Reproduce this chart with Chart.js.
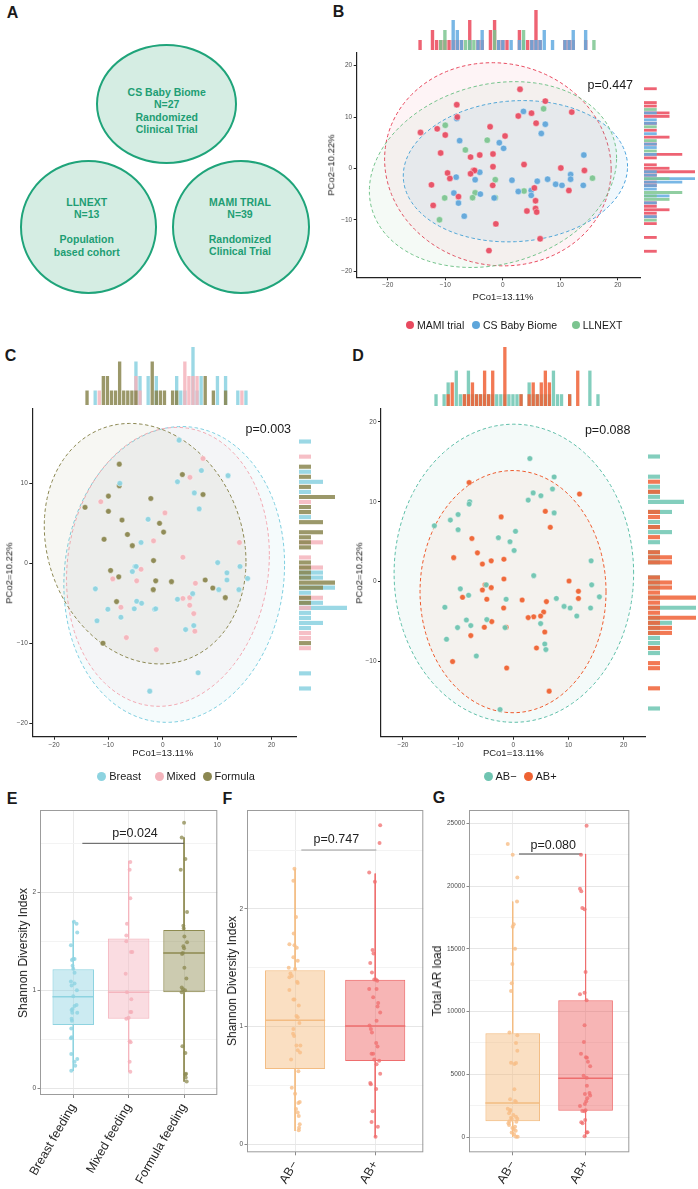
<!DOCTYPE html>
<html>
<head>
<meta charset="utf-8">
<script src="https://cdn.jsdelivr.net/npm/chart.js@4/dist/chart.umd.min.js"></script>
<style>
html, body { margin: 0; padding: 0; background: #fff; }
#page { position: relative; width: 698px; height: 1189px; overflow: hidden; font-family: "Liberation Sans", Arial, Helvetica, sans-serif; color: #222; }
#page canvas { position: absolute; }
.t { position: absolute; transform: translate(-50%, -50%); white-space: nowrap; line-height: 1; }
.tl { position: absolute; transform: translate(0, -50%); white-space: nowrap; line-height: 1; }
.dot { position: absolute; border-radius: 50%; }
.circ { position: absolute; box-sizing: border-box; border: 2px solid #1fa47a; background: #d5ede3; border-radius: 50%; }
</style>
</head>
<body>
<div id="page"></div>
<script>
// ---------- PCoA coordinates (shared by panels B, C, D) ----------
const pcoX = [3.0, 7.4, -8.0, 3.6, 5.0, 7.1, 12.0, 2.7, -7.9, -8.0,
    5.8, 7.4, -2.2, -10.0, -11.4, -14.3, -10.0, 6.7, 0.4, -7.5,
    -2.7, -0.6, 0.15, -10.8, -6.5, -5.6, -4.0, -1.7, 14.1, 3.7,
    -1.7, 10.1, -5.1, -4.9, -4.0, -5.6, -9.6, 14.2, 11.8, -8.1,
    -9.2, -4.8, -1.3, 1.6, 6.0, 7.8, 11.8, 15.6, -12.4, -1.75,
    9.2, 10.3, 14.0, 5.5, 4.95, 3.7, 2.7, 11.5, -8.5, -4.8,
    -3.9, 4.95, -7.7, -10.1, -5.25, -1.5, -1.3, 5.7, -12.1, -7.7,
    4.2, 5.7, 5.9, -6.7, -11.0, -1.2, 6.5, -2.4];
const pcoY = [15.4, 13.1, 12.4, 11.1, 10.75, 11.6, 10.96, 10.2, 10.0, 9.7,
    8.8, 8.6, 8.1, 8.4, 7.7, 7.0, 6.5, 6.8, 6.3, 5.4,
    5.5, 5.0, 3.9, 3.0, 3.6, 2.2, 2.6, 2.8, 2.6, 0.75,
    0.33, 0.08, -0.4, -0.4, -0.75, -1.04, -0.9, -0.4, -1.2, -1.7,
    -1.96, -2.2, -2.2, -2.3, -2.5, -2.1, -2.1, -1.9, -3.2, -3.3,
    -3.1, -3.3, -3.3, -3.8, -4.3, -4.4, -4.5, -4.3, -4.8, -4.75,
    -5.0, -5.25, -5.5, -5.75, -5.7, -5.75, -5.7, -6.3, -7.2, -6.75,
    -8.3, -7.8, -8.5, -9.3, -10.0, -10.8, -13.7, -16.0];
// M = MAMI trial, C = CS Baby Biome, L = LLNEXT
const pcoStudy = ['M','M','M','C','M','L','M','M','M','C',
    'M','C','M','L','M','M','M','C','M','C',
    'L','C','C','M','L','M','M','M','C','M',
    'M','M','M','M','C','M','M','M','C','C',
    'M','C','L','C','C','C','C','L','M','M',
    'C','C','C','M','C','L','C','M','C','L',
    'C','C','M','L','L','C','L','M','M','C',
    'M','M','M','C','L','M','M','M'];
// B = Breast, X = Mixed, F = Formula
const pcoFeed = ['B','X','F','F','X','B','B','B','B','F',
    'B','F','F','F','X','F','F','B','X','F',
    'B','F','F','F','F','F','B','X','X','X',
    'F','B','B','B','X','B','F','B','B','F',
    'X','X','F','F','X','F','B','B','B','F',
    'F','B','B','B','X','X','B','F','F','B',
    'B','X','X','B','B','B','B','X','B','B',
    'B','B','X','X','F','X','B','B'];
const pcoAB = ['-','-','+','-','-','-','+','-','-','-',
    '+','-','+','-','-','-','-','+','-','+',
    '-','-','-','+','+','+','+','+','-','-',
    '+','+','+','-','+','+','-','-','+','-',
    '+','+','-','+','+','-','+','-','-','+',
    '-','-','-','+','+','+','+','-','-','-',
    '+','-','-','-','+','-','+','+','-','+',
    '+','-','-','-','+','+','+','-'];

const pcoTicksX = [-20, -10, 0, 10, 20];
const bTicksY = [-20, -10, 0, 10, 20];
const cTicksY = [-20, -10, 0, 10];
const dTicksY = [-10, 0, 10, 20];

// ellipses: centre (cx, cy), half-width a, vertical terms b (sin) and c (cos)
const bEllipses = [
    {cx: -0.85, cy: 0.8, a: 19.7, b: 19.75, c: -1.0},
    {cx: 2.2, cy: -0.55, a: 19.5, b: 13.72, c: 0.92},
    {cx: -1.7, cy: -1.2, a: 21.5, b: 17.8, c: 3.2}];
const cEllipses = [
    {cx: 2.1, cy: -1.4, a: 20.3, b: 18.46, c: 1.28},
    {cx: 0.95, cy: -0.45, a: 18.65, b: 17.38, c: 1.54},
    {cx: -3.25, cy: 2.45, a: 18.55, b: 14.88, c: -2.23}];
const dEllipses = [
    {cx: 0.1, cy: 1.05, a: 21.7, b: 18.65, c: 0},
    {cx: -0.05, cy: -1.25, a: 16.85, b: 15.15, c: 0}];

// ---------- marginal histograms (counts per bin) ----------
const bTopMami = [1,0,0,2,1,1,1,1,1,1, 1,0,3,0,1,1,0,2,3,1, 1,1,0,0,2,0,1,1,4,1, 0,0,0,0,0,1,1,1,0,0, 1,0,0];
const bTopCS   = [0,0,0,0,0,0,0,0,3,2, 1,0,1,0,1,2,0,0,0,1, 1,0,1,0,1,1,0,1,1,1, 2,0,1,0,0,1,1,2,0,0, 2,0,0];
const bTopLL   = [0,0,0,0,0,1,2,0,0,0, 0,1,1,1,0,0,0,0,2,0, 0,0,0,0,0,2,0,0,0,0, 0,0,0,0,0,0,0,0,0,0, 0,0,1];
const bRightMami = [1,0,0,0,1,1,0,2,2,0, 1,0,1,0,2,0,1,0,0,3, 1,0,1,2,4,1,0,1,1,0, 0,0,0,1,1,2,1,1,0,1, 0,0,0,1,0,0,0,1];
const bRightCS   = [0,0,0,0,0,0,0,1,0,1, 1,0,0,1,0,0,1,1,0,1, 0,0,0,0,1,1,4,3,1,1, 0,2,0,1,0,0,0,1,0,0, 0,0,0,0,0,0,0,0];
const bRightLL   = [0,0,0,0,0,0,1,0,0,0, 0,1,0,0,0,1,0,0,1,0, 0,0,0,0,0,0,2,0,0,0, 3,1,2,0,0,0,0,0,1,0, 0,0,0,0,0,0,0,0];

const cTopBreast  = [0,0,1,0,0,0,0,0,0,0, 0,0,3,2,0,2,0,2,0,0, 0,0,2,1,1,0,4,1,2,0, 0,0,2,0,2,0,0,1,0,1];
const cTopMixed   = [0,0,0,1,0,0,0,0,0,0, 0,0,2,1,0,0,0,0,0,0, 0,0,0,0,3,2,2,2,0,0, 0,0,0,0,0,0,0,0,1,0];
const cTopFormula = [1,0,0,0,2,2,1,1,3,1, 1,1,1,0,0,0,3,1,1,1, 0,1,1,0,0,0,0,0,0,2, 0,1,0,0,1,0,0,0,0,0];
const cRightBreast  = [1,0,0,0,0,0,1,0,2,0, 1,0,0,0,0,1,0,0,0,0, 0,0,0,0,0,0,2,2,0,3, 1,0,2,4,1,1,2,1,0,0, 0,0,0,0,0,0,1,0,0,1];
const cRightMixed   = [0,0,0,1,0,0,0,0,0,0, 0,0,1,0,0,0,0,0,0,0, 2,0,0,1,0,2,0,0,0,0, 0,2,0,1,0,0,0,0,1,1, 0,1,0,0,0,0,0,0,0,0];
const cRightFormula = [0,0,0,0,0,1,0,1,0,1, 0,3,0,1,1,0,2,0,2,1, 1,1,0,0,1,1,1,1,3,2, 0,1,1,0,0,0,0,0,0,0, 1,0,0,0,0,0,0,0,0,0];

const dTopNeg = [1,0,1,2,0,3,1,1,3,1, 1,1,1,1,1,1,1,1,1,1, 1,1,0,2,1,1,1,1,1,3, 1,1,0,1,0,0,0,0,3,0, 1];
const dTopPos = [0,0,0,1,2,0,0,1,1,2, 1,1,3,1,3,0,0,5,0,0, 0,1,0,1,2,1,2,3,2,0, 0,0,0,1,0,3,0,0,0,0, 0];
const dRightNeg = [1,0,0,0,1,0,1,1,1,3, 0,2,0,1,1,2,0,1,0,1, 1,1,0,0,1,1,1,0,1,0, 4,0,1,2,1,1,1,1,1,1, 0,0,0,0,0,0,0,0,0,0, 1];
const dRightPos = [0,0,0,0,0,1,0,1,0,0, 0,1,1,0,1,0,1,0,0,1, 2,2,0,0,1,2,2,1,4,1, 1,1,4,1,2,2,0,0,1,0, 0,1,1,0,0,0,1,0,0,0, 0];

// ---------- box plots ----------
const feedCats = ['Breast feeding', 'Mixed feeding', 'Formula feeding'];
const abCats = ['AB\u2212', 'AB+'];

const eBreastVal = [1.70,1.68,1.59,1.46,1.32,1.31,1.32,1.25,1.22,1.18,1.09,1.07,1.05,1.00,0.94,0.85,0.84,0.81,0.80,0.77,0.77,0.71,0.69,0.61,0.51,0.52,0.35,0.30,0.27,0.23,0.18];
const eBreastJit = [0.012,0.06,0.072,-0.042,0.024,-0.024,0,-0.012,0,0.024,-0.042,0.024,-0.03,0.066,0,0.06,0.024,-0.012,-0.03,-0.018,0.072,-0.03,-0.024,-0.036,-0.042,-0.03,-0.036,0.072,0.024,0.036,-0.036];
const eMixedVal = [2.31,2.23,1.94,1.68,1.56,1.50,1.39,1.39,1.17,0.98,0.91,0.78,0.78,0.71,0.72,0.48,0.47,0.27,0.17];
const eMixedJit = [0.03,0.018,0.03,-0.03,-0.042,-0.042,0.042,0.066,-0.054,-0.03,0.048,0.03,0.048,-0.042,0,0.018,0.036,0.018,0.03];
const eFormulaVal = [2.71,2.56,2.34,2.23,1.80,1.66,1.63,1.55,1.49,1.45,1.43,1.38,1.37,1.23,1.12,1.03,1.01,1.00,0.98,0.43,0.36,0.15,0.14,0.11,0.07];
const eFormulaJit = [0,-0.042,0.024,-0.06,0.054,-0.012,-0.006,0.006,0.054,-0.012,0,-0.024,-0.036,0.006,0.042,-0.042,-0.018,0.018,-0.042,-0.03,0.024,0.036,0.024,0.03,0.048];
const eLow = [0.177, 0.17, 0.068];
const eQ1  = [0.646, 0.71, 0.98];
const eMed = [0.935, 0.98, 1.38];
const eQ3  = [1.214, 1.53, 1.615];
const eHigh = [1.707, 2.32, 2.56];

const fNegVal = [2.34,2.24,1.93,1.79,1.70,1.69,1.67,1.59,1.56,1.50,1.49,1.45,1.43,1.42,1.38,1.37,1.31,1.23,1.23,1.18,1.09,1.08,1.03,0.98,0.94,0.92,0.84,0.84,0.80,0.78,0.72,0.62,0.48,0.43,0.35,0.36,0.30,0.27,0.24,0.17,0.14,0.12];
const fNegJit = [-0.008,-0.021,0.012,-0.017,-0.071,-0.008,0.021,-0.021,0.033,-0.079,0,-0.058,-0.041,-0.071,0.025,0.033,-0.071,-0.021,-0.008,0.046,0.017,0.033,0.054,-0.021,-0.025,-0.012,0.017,0.066,0.033,0.062,-0.05,0.041,-0.041,0,0.041,0.058,0.012,0.033,0.046,0.058,0.05,0.046];
const fPosVal = [2.71,2.56,2.31,2.23,1.65,1.62,1.54,1.46,1.40,1.39,1.40,1.32,1.32,1.25,1.20,1.17,1.12,1.05,1.01,0.98,0.95,0.86,0.83,0.77,0.77,0.72,0.71,0.68,0.60,0.52,0.51,0.47,0.28,0.19,0.15,0.065];
const fPosJit = [0.062,0.054,-0.075,-0.004,-0.033,-0.021,-0.062,-0.041,0.008,0.025,-0.012,-0.075,0.017,-0.025,0.037,0.029,0.062,0.017,-0.071,-0.054,-0.041,0.012,0.029,-0.046,-0.025,-0.012,0.05,0.017,0.062,-0.062,-0.054,0.012,-0.033,-0.046,0.033,0.004];
const fLow = [0.113, 0.06];
const fQ1  = [0.64, 0.708];
const fMed = [1.054, 1.006];
const fQ3  = [1.479, 1.397];
const fHigh = [2.34, 2.30];

const gNegVal = [23350,22500,20670,18760,16950,16760,15010,13790,12250,11640,8320,8100,7490,6880,5920,5820,5900,3800,3000,2870,2790,2150,2260,2070,1750,1890,1540,1620,1430,1460,1250,1220,1090,960,820,720,640,500,350,210,30,30];
const gNegJit = [-0.068,0,0.063,0.059,0.014,0,0.032,-0.005,-0.014,-0.023,-0.045,0.063,0.045,0.063,-0.023,0.023,0.045,0.023,-0.036,0.032,0.045,-0.032,-0.068,-0.036,0.009,-0.05,-0.023,0.045,-0.014,0.063,-0.045,0.05,-0.059,-0.05,0.032,-0.005,0.014,0.041,-0.014,0.018,0.045,0.068];
const gPosVal = [24810,22500,19790,19580,18250,18150,13150,11370,11500,10890,8900,7570,6640,6350,6320,6000,5630,4890,4730,4090,3430,3510,3300,3080,2840,2630,2470,2070,2050,2130,1360,1170,1090,370,350,50];
const gPosJit = [0.014,-0.063,-0.077,-0.059,-0.045,-0.014,0,-0.077,-0.014,0.014,-0.014,-0.023,-0.063,0.005,0.018,0.032,0.063,-0.027,0.014,0.018,-0.009,0.054,0.063,0.023,0.009,-0.009,-0.077,-0.045,-0.014,0,-0.005,-0.059,-0.041,0.027,0.014,-0.014];
const gLow = [0, 0];
const gQ1  = [1249, 2099];
const gMed = [2710, 4676];
const gQ3  = [8263, 10893];
const gHigh = [18757, 22556];

const eTicksY = [0, 0.5, 1, 1.5, 2, 2.5];
const gTicksY = [0, 2500, 5000, 7500, 10000, 12500, 15000, 17500, 20000, 22500, 25000];

// ---------- helpers ----------
const FONT = '"Liberation Sans", Arial, Helvetica, sans-serif';
Chart.defaults.font.family = FONT;
const page = document.getElementById('page');

function mkCanvas(id, left, top, w, h) {
    const c = document.createElement('canvas');
    c.id = id;
    c.width = Math.round(w);
    c.height = Math.round(h);
    c.style.left = Math.round(left) + 'px';
    c.style.top = Math.round(top) + 'px';
    page.appendChild(c);
    return c;
}

function txt(s, x, y, css, cls) {
    const d = document.createElement('div');
    d.className = cls || 't';
    d.textContent = s;
    d.style.left = x + 'px';
    d.style.top = y + 'px';
    Object.assign(d.style, css || {});
    page.appendChild(d);
    return d;
}

function legend(items, y, size, dot) {
    items.forEach(it => {
        const d = document.createElement('div');
        d.className = 'dot';
        Object.assign(d.style, {left: (it.x - dot / 2) + 'px', top: (y - dot / 2) + 'px', width: dot + 'px', height: dot + 'px', background: it.color});
        page.appendChild(d);
        txt(it.text, it.x + dot / 2 + 3, y, {fontSize: size + 'px', color: '#1a1a1a'}, 'tl');
    });
}

function minus(v) {
    return v < 0 ? '\u2212' + Math.abs(v) : String(v);
}

const ellipsePlugin = {
    id: 'ellipses',
    beforeDatasetsDraw(chart, args, opts) {
        const items = opts.items || [];
        const {ctx, chartArea: ca, scales: {x, y}} = chart;
        ctx.save();
        ctx.beginPath();
        ctx.rect(ca.left, ca.top, ca.width, ca.height);
        ctx.clip();
        items.forEach(e => {
            ctx.beginPath();
            for (let i = 0; i <= 160; i++) {
                const t = i / 160 * Math.PI * 2;
                const px = x.getPixelForValue(e.cx + e.a * Math.cos(t));
                const py = y.getPixelForValue(e.cy + e.c * Math.cos(t) + e.b * Math.sin(t));
                if (i === 0) ctx.moveTo(px, py); else ctx.lineTo(px, py);
            }
            ctx.closePath();
            ctx.fillStyle = e.fill;
            ctx.fill();
            ctx.setLineDash([3.5, 2.5]);
            ctx.lineWidth = 1;
            ctx.strokeStyle = e.line;
            ctx.stroke();
        });
        ctx.restore();
    }
};

const notePlugin = {
    id: 'notes',
    afterDatasetsDraw(chart, args, opts) {
        const {ctx, scales: {x, y}} = chart;
        (opts.items || []).forEach(n => {
            ctx.save();
            ctx.font = n.size + 'px ' + FONT;
            ctx.fillStyle = n.color || '#222';
            ctx.textAlign = 'center';
            ctx.textBaseline = 'middle';
            ctx.fillText(n.text, x.getPixelForValue(n.x), y.getPixelForValue(n.y));
            ctx.restore();
        });
    }
};

const framePlugin = {
    id: 'frame',
    afterDraw(chart) {
        const {ctx, chartArea: c} = chart;
        ctx.save();
        ctx.strokeStyle = '#9c9c9c';
        ctx.lineWidth = 1;
        ctx.strokeRect(c.left + 0.5, c.top + 0.5, c.width - 1, c.height - 1);
        ctx.restore();
    }
};

function classicAxis(ticksArr, min, max) {
    return {
        type: 'linear', min: min, max: max,
        afterBuildTicks: s => { s.ticks = ticksArr.map(v => ({value: v})); },
        ticks: {font: {size: 6.5}, color: '#4d4d4d', padding: 1.5, autoSkip: false, maxRotation: 0, callback: v => minus(v)},
        grid: {display: true, drawOnChartArea: false, drawTicks: true, tickLength: 3, color: '#222'},
        border: {display: true, color: '#222', width: 1.2}
    };
}

function makePcoa(p) {
    const b = p.box, a = p.area;
    const cv = mkCanvas(p.id, b.left, b.top, b.w, b.h);
    const datasets = p.keys.map((k, gi) => ({
        label: p.names[gi],
        data: pcoX.map((x, i) => ({x: x, y: pcoY[i], g: p.codes[i]})).filter(d => d.g === k),
        pointRadius: p.r,
        pointHoverRadius: p.r,
        pointBackgroundColor: p.colors[gi],
        pointBorderColor: 'rgba(255,255,255,0.7)',
        pointBorderWidth: 0.6,
        order: gi + 1
    }));
    const xAx = classicAxis(pcoTicksX, p.xr[0], p.xr[1]);
    xAx.afterFit = s => { s.height = b.top + b.h - a.b; };
    const yAx = classicAxis(p.yTicks, p.yr[0], p.yr[1]);
    yAx.afterFit = s => { s.width = a.l - b.left; };
    return new Chart(cv, {
        type: 'scatter',
        data: {datasets: datasets},
        options: {
            responsive: false, animation: false, events: [],
            layout: {padding: {left: 0, top: a.t - b.top, right: b.left + b.w - a.r, bottom: 0}},
            plugins: {
                legend: {display: false}, tooltip: {enabled: false},
                ellipses: {items: p.ellipses},
                notes: {items: [{text: p.pText, x: p.pPos[0], y: p.pPos[1], size: 12.5, color: '#1a1a1a'}]}
            },
            scales: {x: xAx, y: yAx}
        },
        plugins: [ellipsePlugin, notePlugin]
    });
}

function histChart(cv, series, colors, maxCount, horizontal) {
    const valueAxis = {display: false, min: 0, max: maxCount};
    const indexAxis = {display: false};
    return new Chart(cv, {
        type: 'bar',
        data: {
            labels: series[0].map((_, i) => i),
            datasets: series.map((s, k) => ({
                data: s, backgroundColor: colors[k], grouped: false,
                barPercentage: 0.82, categoryPercentage: 1, borderWidth: 0,
                order: series.length - k
            }))
        },
        options: {
            indexAxis: horizontal ? 'y' : 'x',
            responsive: false, animation: false, events: [],
            layout: {padding: 0},
            plugins: {legend: {display: false}, tooltip: {enabled: false}},
            scales: horizontal ? {y: indexAxis, x: valueAxis} : {x: indexAxis, y: valueAxis}
        }
    });
}

function topHist(chart, box, h) {
    const xs = chart.scales.x;
    const l = box.left + xs.getPixelForValue(h.from);
    const r = box.left + xs.getPixelForValue(h.to);
    const ht = h.maxCount * h.unit;
    histChart(mkCanvas(h.id, l, h.base - ht, r - l, ht), h.series, h.colors, h.maxCount, false);
}

function rightHist(chart, box, h) {
    const ys = chart.scales.y;
    const t = box.top + ys.getPixelForValue(h.from);
    const bt = box.top + ys.getPixelForValue(h.to);
    const w = h.maxCount * h.unit;
    histChart(mkCanvas(h.id, h.base, t, w, bt - t), h.series, h.colors, h.maxCount, true);
}

function makeBox(p) {
    const b = p.box, a = p.area;
    const cv = mkCanvas(p.id, b.left, b.top, b.w, b.h);
    const half = 0.375;
    const ds = [{
        type: 'bar',
        data: p.q1.map((q, i) => ({x: i + 1, y: [q, p.q3[i]]})),
        backgroundColor: p.fill, borderColor: p.line, borderWidth: 1, borderSkipped: false,
        barPercentage: 0.75, categoryPercentage: 1, order: 5
    }];
    p.cats.forEach((c, i) => {
        ds.push({type: 'line', order: 6, borderColor: p.line[i], borderWidth: 1, pointRadius: 0, spanGaps: false,
            data: [{x: i + 1, y: p.hi[i]}, {x: i + 1, y: p.q3[i]}, {x: i + 1, y: null}, {x: i + 1, y: p.q1[i]}, {x: i + 1, y: p.lo[i]}]});
        ds.push({type: 'line', order: 4, borderColor: p.line[i], borderWidth: 1.5, pointRadius: 0,
            data: [{x: i + 1 - half, y: p.med[i]}, {x: i + 1 + half, y: p.med[i]}]});
        ds.push({type: 'scatter', order: 1, pointRadius: 2, pointHoverRadius: 2, pointBorderWidth: 0, pointBackgroundColor: p.dots[i],
            data: p.vals[i].map((v, j) => ({x: i + 1 + p.jit[i][j], y: v}))});
    });
    ds.push({type: 'line', order: 2, borderColor: p.bracketColor, borderWidth: 1, pointRadius: 0,
        data: [{x: p.bracket[0], y: p.bracket[2]}, {x: p.bracket[1], y: p.bracket[2]}]});
    const n = p.cats.length;
    return new Chart(cv, {
        type: 'bar',
        data: {datasets: ds},
        options: {
            responsive: false, animation: false, events: [],
            layout: {padding: {left: 0, top: a.t - b.top, right: b.left + b.w - a.r, bottom: 0}},
            plugins: {
                legend: {display: false}, tooltip: {enabled: false},
                notes: {items: [{text: p.pText, x: p.pPos[0], y: p.pPos[1], size: 12.5, color: '#222'}]}
            },
            scales: {
                x: {
                    type: 'linear', min: 0.4, max: n + 0.6, offset: false,
                    afterBuildTicks: s => { s.ticks = p.cats.map((_, i) => ({value: i + 1})); },
                    afterFit: s => { s.height = b.top + b.h - a.b; },
                    ticks: {font: {size: 12.5}, color: '#262626', padding: 3, minRotation: 60, maxRotation: 60, autoSkip: false,
                        callback: v => p.cats[Math.round(v) - 1]},
                    grid: {color: '#ebebeb', drawTicks: true, tickLength: 3, tickColor: '#8a8a8a', offset: false},
                    border: {display: false}
                },
                y: {
                    type: 'linear', min: p.yr[0], max: p.yr[1],
                    afterBuildTicks: s => { s.ticks = p.yTicks.map(v => ({value: v})); },
                    afterFit: s => { s.width = a.l - b.left; },
                    ticks: {font: {size: 6.5}, color: '#4d4d4d', padding: 1.5, autoSkip: false,
                        callback: v => (v % p.major === 0 ? String(v) : '')},
                    grid: {
                        drawTicks: true, tickLength: 2.5,
                        color: c => (c.tick && c.tick.value % p.major === 0 ? '#e6e6e6' : '#f3f3f3'),
                        tickColor: c => (c.tick && c.tick.value % p.major === 0 ? '#8a8a8a' : 'rgba(0,0,0,0)')
                    },
                    border: {display: false}
                }
            }
        },
        plugins: [notePlugin, framePlugin]
    });
}

// ---------- panel A ----------
[
    {l: 96, t: 43.5, w: 141, h: 120},
    {l: 19.5, t: 160, w: 137, h: 133.5},
    {l: 171.5, t: 160, w: 138, h: 133.5}
].forEach(c => {
    const d = document.createElement('div');
    d.className = 'circ';
    Object.assign(d.style, {left: c.l + 'px', top: c.t + 'px', width: c.w + 'px', height: c.h + 'px'});
    page.appendChild(d);
});
const circleCss = {color: '#1e9e74', fontWeight: 'bold', fontSize: '10.5px'};
[['CS Baby Biome', 166.7, 92], ['N=27', 166.7, 104.3], ['Randomized', 166.7, 116.7], ['Clinical Trial', 166.7, 129],
 ['LLNEXT', 86.7, 202], ['N=13', 86.7, 214], ['Population', 86.7, 239.3], ['based cohort', 86.7, 251.7],
 ['MAMI TRIAL', 240, 202], ['N=39', 240, 214], ['Randomized', 240, 239.3], ['Clinical Trial', 240, 251.3]
].forEach(r => txt(r[0], r[1], r[2], circleCss));

// ---------- panel letters ----------
const letterCss = {fontWeight: 'bold', fontSize: '16px', color: '#1a1a1a'};
[['A', 12.5, 12.5], ['B', 338.5, 11.5], ['C', 10.5, 355.5], ['D', 358, 355.5],
 ['E', 12, 799], ['F', 227.5, 799], ['G', 439, 798]].forEach(r => txt(r[0], r[1], r[2], letterCss));

// ---------- panel B ----------
const bBox = {left: 336, top: 44, w: 308, h: 250};
const bChart = makePcoa({
    id: 'chartB', box: bBox, area: {l: 356.7, t: 52.3, r: 640.7, b: 277.3},
    xr: [-25.4, 23.9], yr: [-21.2, 22.6], yTicks: bTicksY,
    codes: pcoStudy, keys: ['M', 'C', 'L'], names: ['MAMI trial', 'CS Baby Biome', 'LLNEXT'],
    colors: ['rgba(232,74,95,0.92)', 'rgba(93,165,218,0.92)', 'rgba(123,196,143,0.92)'], r: 3.2,
    ellipses: [
        Object.assign({fill: 'rgba(232,74,95,0.06)', line: '#e84a5f'}, bEllipses[0]),
        Object.assign({fill: 'rgba(93,165,218,0.09)', line: '#4aa3dd'}, bEllipses[1]),
        Object.assign({fill: 'rgba(123,196,143,0.08)', line: '#74c38b'}, bEllipses[2])],
    pText: 'p=0.447', pPos: [18.7, 16.2]
});
const bHistCol = ['rgba(236,77,96,0.88)', 'rgba(98,170,225,0.85)', 'rgba(125,198,145,0.85)'];
topHist(bChart, bBox, {id: 'bTop', from: -14.73, to: 16.29, base: 50, unit: 10, maxCount: 4,
    series: [bTopMami, bTopCS, bTopLL], colors: bHistCol});
rightHist(bChart, bBox, {id: 'bRight', from: 15.93, to: -16.45, base: 644.3, unit: 12.7, maxCount: 4,
    series: [bRightMami, bRightCS, bRightLL], colors: bHistCol});
txt('PCo1=13.11%', 503, 296.7, {fontSize: '9.5px'});
txt('PCo2=10.22%', 331, 165, {fontSize: '9.5px', transform: 'translate(-50%,-50%) rotate(-90deg)'});
legend([
    {x: 410, color: '#e84a5f', text: 'MAMI trial'},
    {x: 476, color: '#5da5da', text: 'CS Baby Biome'},
    {x: 575.7, color: '#7bc48f', text: 'LLNEXT'}], 325, 10.5, 8);

// ---------- panel C ----------
const cBox = {left: 12, top: 400, w: 288, h: 350};
const cChart = makePcoa({
    id: 'chartC', box: cBox, area: {l: 32.3, t: 409, r: 296, b: 736.7},
    xr: [-24.0, 24.5], yr: [-21.7, 19.3], yTicks: cTicksY,
    codes: pcoFeed, keys: ['B', 'X', 'F'], names: ['Breast', 'Mixed', 'Formula'],
    colors: ['rgba(141,211,224,0.95)', 'rgba(244,180,188,0.95)', 'rgba(139,135,81,0.95)'], r: 2.8,
    ellipses: [
        Object.assign({fill: 'rgba(141,211,224,0.09)', line: '#7fcfe0'}, cEllipses[0]),
        Object.assign({fill: 'rgba(244,180,188,0.08)', line: '#f2a9b3'}, cEllipses[1]),
        Object.assign({fill: 'rgba(139,135,81,0.07)', line: '#8b8751'}, cEllipses[2])],
    pText: 'p=0.003', pPos: [19.4, 16.7]
});
const cHistCol = ['rgba(141,211,225,0.88)', 'rgba(245,180,188,0.85)', 'rgba(138,134,80,0.85)'];
topHist(cChart, cBox, {id: 'cTop', from: -14.35, to: 15.64, base: 405, unit: 14.4, maxCount: 4,
    series: [cTopBreast, cTopMixed, cTopFormula], colors: cHistCol});
rightHist(cChart, cBox, {id: 'cRight', from: 15.51, to: -16.03, base: 299, unit: 12, maxCount: 4,
    series: [cRightBreast, cRightMixed, cRightFormula], colors: cHistCol});
txt('PCo1=13.11%', 162.7, 753.3, {fontSize: '9.5px'});
txt('PCo2=10.22%', 9.2, 572.8, {fontSize: '9.5px', transform: 'translate(-50%,-50%) rotate(-90deg)'});
legend([
    {x: 101.7, color: '#8dd3e0', text: 'Breast'},
    {x: 159, color: '#f4b4bc', text: 'Mixed'},
    {x: 207, color: '#8b8751', text: 'Formula'}], 776, 11, 9);

// ---------- panel D ----------
const dBox = {left: 361, top: 400, w: 288, h: 350};
const dChart = makePcoa({
    id: 'chartD', box: dBox, area: {l: 381, t: 409, r: 645, b: 736.7},
    xr: [-23.97, 23.86], yr: [-19.4, 21.6], yTicks: dTicksY,
    codes: pcoAB, keys: ['-', '+'], names: ['AB\u2212', 'AB+'],
    colors: ['rgba(111,196,177,0.95)', 'rgba(238,98,50,0.95)'], r: 2.8,
    ellipses: [
        Object.assign({fill: 'rgba(111,196,177,0.08)', line: '#5fbfa9'}, dEllipses[0]),
        Object.assign({fill: 'rgba(238,98,50,0.06)', line: '#ee5a2c'}, dEllipses[1])],
    pText: 'p=0.088', pPos: [17.1, 18.9]
});
const dHistCol = ['rgba(118,201,182,0.9)', 'rgba(240,98,54,0.85)'];
topHist(dChart, dBox, {id: 'dTop', from: -14.31, to: 15.83, base: 405, unit: 11.7, maxCount: 5,
    series: [dTopNeg, dTopPos], colors: dHistCol});
rightHist(dChart, dBox, {id: 'dRight', from: 15.94, to: -16.26, base: 647.7, unit: 12, maxCount: 4,
    series: [dRightNeg, dRightPos], colors: dHistCol});
txt('PCo1=13.11%', 513.3, 753.3, {fontSize: '9.5px'});
txt('PCo2=10.22%', 358.7, 572.8, {fontSize: '9.5px', transform: 'translate(-50%,-50%) rotate(-90deg)'});
legend([
    {x: 488, color: '#6fc4b1', text: 'AB\u2212'},
    {x: 528, color: '#ee6232', text: 'AB+'}], 776, 11, 9);

// ---------- panel E ----------
makeBox({
    id: 'chartE', box: {left: 0, top: 800, w: 222, h: 389}, area: {l: 40, t: 810, r: 217.3, b: 1095},
    cats: feedCats, yr: [-0.068, 2.84], yTicks: eTicksY, major: 1,
    lo: eLow, q1: eQ1, med: eMed, q3: eQ3, hi: eHigh,
    vals: [eBreastVal, eMixedVal, eFormulaVal], jit: [eBreastJit, eMixedJit, eFormulaJit],
    fill: ['rgba(141,211,226,0.45)', 'rgba(245,178,188,0.45)', 'rgba(142,139,80,0.45)'],
    line: ['#8ed3e0', '#f4b5be', '#8e8b50'],
    dots: ['rgba(141,211,226,0.8)', 'rgba(245,175,185,0.8)', 'rgba(140,137,80,0.75)'],
    bracket: [1.164, 3.0, 2.5], bracketColor: '#555', pText: 'p=0.024', pPos: [2.115, 2.595]
});
txt('Shannon Diversity Index', 23.3, 952.5, {fontSize: '12px', transform: 'translate(-50%,-50%) rotate(-90deg)'});

// ---------- panel F ----------
makeBox({
    id: 'chartF', box: {left: 226, top: 800, w: 200, h: 389}, area: {l: 247, t: 810, r: 423.3, b: 1152.3},
    cats: abCats, yr: [-0.068, 2.84], yTicks: eTicksY, major: 1,
    lo: fLow, q1: fQ1, med: fMed, q3: fQ3, hi: fHigh,
    vals: [fNegVal, fPosVal], jit: [fNegJit, fPosJit],
    fill: ['rgba(245,183,120,0.45)', 'rgba(238,90,90,0.45)'],
    line: ['#f3bc82', '#ee6e6e'],
    dots: ['rgba(247,190,135,0.8)', 'rgba(240,110,110,0.75)'],
    bracket: [1.078, 2.014, 2.5], bracketColor: '#9a9a9a', pText: 'p=0.747', pPos: [1.515, 2.59]
});
txt('Shannon Diversity Index', 232.3, 981, {fontSize: '12px', transform: 'translate(-50%,-50%) rotate(-90deg)'});

// ---------- panel G ----------
makeBox({
    id: 'chartG', box: {left: 440, top: 800, w: 195, h: 389}, area: {l: 469, t: 810, r: 629.3, b: 1152.3},
    cats: abCats, yr: [-1219, 26056], yTicks: gTicksY, major: 5000,
    lo: gLow, q1: gQ1, med: gMed, q3: gQ3, hi: gHigh,
    vals: [gNegVal, gPosVal], jit: [gNegJit, gPosJit],
    fill: ['rgba(245,183,120,0.45)', 'rgba(238,90,90,0.45)'],
    line: ['#f3bc82', '#ee6e6e'],
    dots: ['rgba(247,190,135,0.8)', 'rgba(240,110,110,0.75)'],
    bracket: [1.086, 1.946, 22550], bracketColor: '#444', pText: 'p=0.080', pPos: [1.556, 23211]
});
txt('Total AR load', 436.7, 981, {fontSize: '12px', transform: 'translate(-50%,-50%) rotate(-90deg)'});
</script>
</body>
</html>
